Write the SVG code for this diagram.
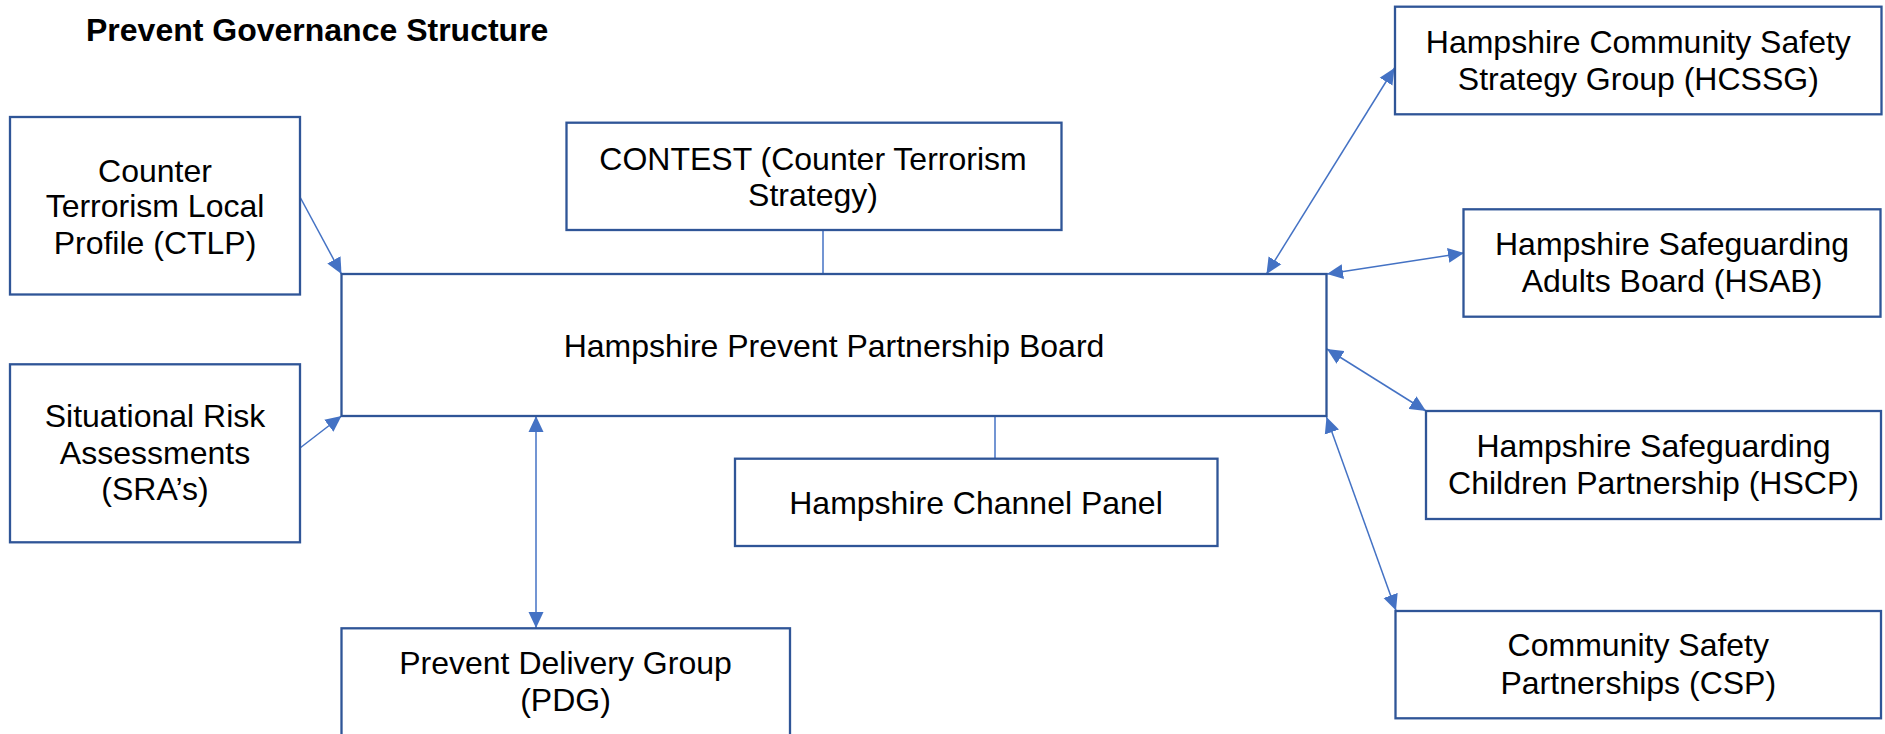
<svg xmlns="http://www.w3.org/2000/svg" width="1885" height="734" viewBox="0 0 1885 734">
  <style>
    .box { fill: #ffffff; stroke: #2f5597; stroke-width: 2.3; }
    .lbl { font-family: "Liberation Sans", Arial, sans-serif; font-size: 32px; fill: #000000; text-anchor: middle; }
    .title { font-family: "Liberation Sans", Arial, sans-serif; font-size: 32px; font-weight: bold; fill: #000000; }
    .conn { stroke: #4472c4; stroke-width: 1.5; fill: none; }
    .arr { marker-end: url(#head); }
    .both { marker-start: url(#head); marker-end: url(#head); }
  </style>
  <defs>
    <marker id="head" markerUnits="userSpaceOnUse" markerWidth="16" markerHeight="16" viewBox="0 0 16 16" refX="16" refY="8" orient="auto-start-reverse">
      <path d="M0,0.5 L16,8 L0,15.5 z" fill="#4472c4"/>
    </marker>
  </defs>
  <rect width="1885" height="734" fill="#ffffff"/>

  <text class="title" x="86" y="41">Prevent Governance Structure</text>

  <g id="connectors">
    <line class="conn arr" x1="300" y1="197" x2="341.5" y2="274"/>
    <line class="conn arr" x1="300" y1="448" x2="341.5" y2="416"/>
    <line class="conn" x1="823" y1="230" x2="823" y2="274"/>
    <line class="conn" x1="995" y1="416" x2="995" y2="459"/>
    <line class="conn both" x1="536" y1="416" x2="536" y2="628"/>
    <line class="conn both" x1="1394.5" y1="68" x2="1266.5" y2="274"/>
    <line class="conn both" x1="1464" y1="253" x2="1327" y2="274"/>
    <line class="conn both" x1="1327" y1="349" x2="1426" y2="411"/>
    <line class="conn both" x1="1326.5" y1="417" x2="1396" y2="610.5"/>
  </g>

  <g id="ctlp">
    <rect class="box" x="10" y="117" width="290" height="177.5"/>
    <text class="lbl" x="155" y="181.7">Counter</text>
    <text class="lbl" x="155" y="217.3">Terrorism Local</text>
    <text class="lbl" x="155" y="254">Profile (CTLP)</text>
  </g>

  <g id="sra">
    <rect class="box" x="10" y="364.3" width="290" height="178"/>
    <text class="lbl" x="155" y="427.3">Situational Risk</text>
    <text class="lbl" x="155" y="464.3">Assessments</text>
    <text class="lbl" x="155" y="500">(SRA’s)</text>
  </g>

  <g id="contest">
    <rect class="box" x="566.5" y="122.7" width="495" height="107.3"/>
    <text class="lbl" x="813" y="170">CONTEST (Counter Terrorism</text>
    <text class="lbl" x="813" y="206">Strategy)</text>
  </g>

  <g id="hppb">
    <rect class="box" x="341.5" y="274" width="985" height="142"/>
    <text class="lbl" x="834" y="356.5">Hampshire Prevent Partnership Board</text>
  </g>

  <g id="channel">
    <rect class="box" x="735" y="458.7" width="482.5" height="87.3"/>
    <text class="lbl" x="976" y="514">Hampshire Channel Panel</text>
  </g>

  <g id="pdg">
    <rect class="box" x="341.5" y="628.3" width="448.5" height="120"/>
    <text class="lbl" x="565.5" y="674">Prevent Delivery Group</text>
    <text class="lbl" x="565.5" y="710.7">(PDG)</text>
  </g>

  <g id="hcssg">
    <rect class="box" x="1395" y="6.7" width="486.5" height="107.6"/>
    <text class="lbl" x="1638.3" y="53.3">Hampshire Community Safety</text>
    <text class="lbl" x="1638.3" y="90">Strategy Group (HCSSG)</text>
  </g>

  <g id="hsab">
    <rect class="box" x="1463.5" y="209.3" width="417" height="107.4"/>
    <text class="lbl" x="1672" y="255">Hampshire Safeguarding</text>
    <text class="lbl" x="1672" y="291.7">Adults Board (HSAB)</text>
  </g>

  <g id="hscp">
    <rect class="box" x="1426" y="411" width="455" height="108"/>
    <text class="lbl" x="1653.5" y="456.7">Hampshire Safeguarding</text>
    <text class="lbl" x="1653.5" y="494">Children Partnership (HSCP)</text>
  </g>

  <g id="csp">
    <rect class="box" x="1395.5" y="611" width="485.5" height="107.3"/>
    <text class="lbl" x="1638.3" y="656">Community Safety</text>
    <text class="lbl" x="1638.3" y="694">Partnerships (CSP)</text>
  </g>
</svg>
